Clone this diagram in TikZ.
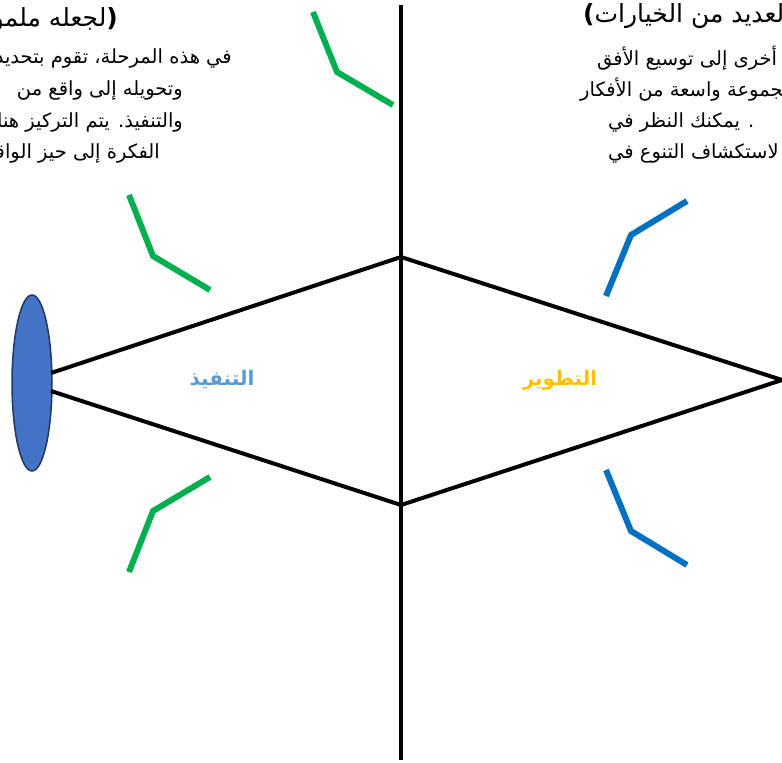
\documentclass[tikz,border=0pt]{standalone}
\usepackage{fontspec}
\usetikzlibrary{shapes.geometric}
\TeXXeTstate=1
\newfontfamily\arabicfont[Script=Arabic]{DejaVu Sans}
\definecolor{sgreen}{HTML}{00B050}
\definecolor{sblue}{HTML}{0070C0}
\definecolor{efill}{HTML}{4472C4}
\definecolor{edraw}{HTML}{203864}
\definecolor{lblue}{HTML}{5B9BD5}
\definecolor{lgold}{HTML}{FFC000}
\begin{document}
\begin{tikzpicture}[x=1pt,y=-1pt,
  mainline/.style={line width=4pt,black},
  greenline/.style={line width=6pt,sgreen},
  blueline/.style={line width=6pt,sblue},
  bodytext/.style={inner sep=0pt,font=\arabicfont\fontsize{19.5}{22}\selectfont},
  titletext/.style={inner sep=0pt,font=\arabicfont\fontsize{25}{28}\selectfont},
  phase/.style={inner sep=0pt,font=\arabicfont\bfseries\fontsize{20}{23}\selectfont}]
\useasboundingbox (0,0) rectangle (782,763);
\clip (0,0) rectangle (782,763);
\fill[white] (0,0) rectangle (782,763);
% vertical axis
\coordinate (vt) at (401,5);
\coordinate (vb) at (401,760);
\draw[mainline] (vt) -- (vb);
% diamond
\node[ellipse,draw=edraw,fill=efill,line width=1.5pt,minimum width=40pt,minimum height=176pt,inner sep=0pt] (ell) at (32,383) {};
\coordinate (e1) at (51,373);
\coordinate (e2) at (51,391);
\coordinate (top) at (401,257);
\coordinate (bot) at (401,505);
\coordinate (tip) at (782,380);
\draw[mainline] (e1) -- (top) -- (tip) -- (bot) -- (e2);
% green ticks
\coordinate (g1a) at (313,12); \coordinate (g1b) at (337,72); \coordinate (g1c) at (393,105);
\draw[greenline] (g1a) -- (g1b) -- (g1c);
\coordinate (g2a) at (129,195); \coordinate (g2b) at (153,256); \coordinate (g2c) at (210,290);
\draw[greenline] (g2a) -- (g2b) -- (g2c);
\coordinate (g3a) at (210,477); \coordinate (g3b) at (153,511); \coordinate (g3c) at (129,572);
\draw[greenline] (g3a) -- (g3b) -- (g3c);
% blue ticks
\coordinate (b1a) at (687,201); \coordinate (b1b) at (631,235); \coordinate (b1c) at (606,296);
\draw[blueline] (b1a) -- (b1b) -- (b1c);
\coordinate (b2a) at (606,470); \coordinate (b2b) at (631,531); \coordinate (b2c) at (687,565);
\draw[blueline] (b2a) -- (b2b) -- (b2c);
% phase labels
\node[phase,text=lblue] (p1) at (222,380) {\beginR التنفيذ\endR};
\node[phase,text=lgold] (p2) at (560,380) {\beginR التطوير\endR};
% left text block
\node[titletext,anchor=east] (lt) at (118,16) {\beginR \textbf{(}لجعله ملموساً\endR};
\node[bodytext,anchor=east] (l1) at (232,58) {\beginR في هذه المرحلة، تقوم بتحديد الفكرة\endR};
\node[bodytext,anchor=east] (l2) at (183,90) {\beginR وتحويله إلى واقع من\endR};
\node[bodytext,anchor=east] (l3) at (183,122) {\beginR والتنفيذ. يتم التركيز هنا\endR};
\node[bodytext,anchor=east] (l4) at (160,153) {\beginR الفكرة إلى حيز الواقع\endR};
% right text block
\node[titletext,anchor=west] (rt) at (583,16) {\beginR العديد من الخيارات\textbf{)}\endR};
\node[bodytext,anchor=west] (r1) at (597,58) {\beginR أخرى إلى توسيع الأفق\endR};
\node[bodytext,anchor=west] (r2) at (580,90) {\beginR مجموعة واسعة من الأفكار\endR};
\node[bodytext,anchor=west] (r3) at (608,122) {\beginR . يمكنك النظر في\endR};
\node[bodytext,anchor=west] (r4) at (608,153) {\beginR لاستكشاف التنوع في\endR};
\end{tikzpicture}
\end{document}
